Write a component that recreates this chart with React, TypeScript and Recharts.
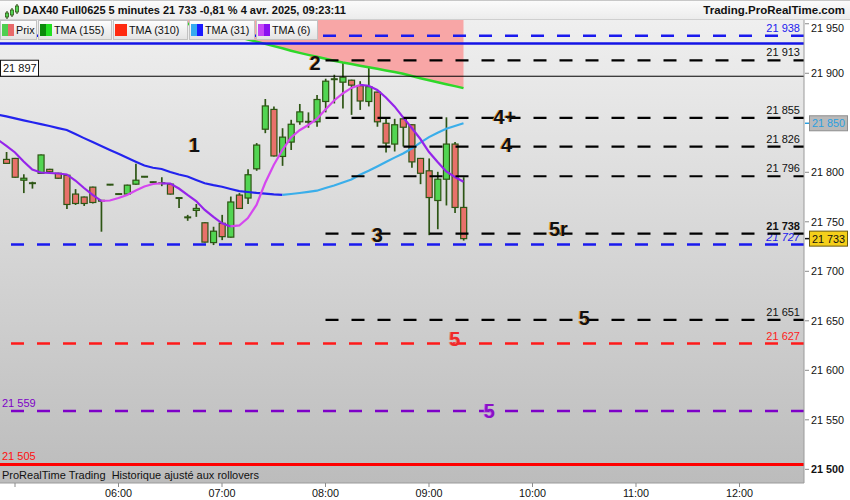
import React from "react";
import {
  ComposedChart,
  Bar,
  Line,
  Area,
  XAxis,
  YAxis,
  CartesianGrid,
  ReferenceLine,
  ReferenceDot,
} from "recharts";

// ---------- data ----------
const times = [
  "04:55", "05:00", "05:05", "05:10", "05:15", "05:20", "05:25", "05:30", "05:35", "05:40",
  "05:45", "05:50", "05:55", "06:00", "06:05", "06:10", "06:15", "06:20", "06:25", "06:30",
  "06:35", "06:40", "06:45", "06:50", "06:55", "07:00", "07:05", "07:10", "07:15", "07:20",
  "07:25", "07:30", "07:35", "07:40", "07:45", "07:50", "07:55", "08:00", "08:05", "08:10",
  "08:15", "08:20", "08:25", "08:30", "08:35", "08:40", "08:45", "08:50", "08:55", "09:00",
  "09:05", "09:10", "09:15", "09:20",
];
const open = [
  21813, 21814, 21792, 21789, 21799, 21803, 21799, 21797, 21778, 21775,
  21785, 21771.5, 21787.5, 21778, 21778, 21788, 21795.5, 21790, 21789, 21788,
  21774, 21754.5, 21761.5, 21749, 21729, 21748.5, 21734.5, 21777, 21774, 21803.5,
  21843.5, 21863.5, 21816, 21830.5, 21851, 21851, 21851, 21871.5, 21894, 21891,
  21893, 21887.5, 21871.5, 21881, 21849.5, 21828.5, 21854, 21848, 21814, 21801.5,
  21771.5, 21793, 21828.5, 21764.5,
];
const high = [
  21820.5, 21814.5, 21798, 21790.5, 21818, 21803.5, 21799.5, 21797.5, 21783, 21775.5,
  21785.5, 21772, 21788, 21778.5, 21787.5, 21808.5, 21796, 21790.5, 21795, 21789,
  21774.5, 21757, 21768, 21749.5, 21745, 21757, 21775.5, 21779, 21803, 21829.5,
  21874, 21866.5, 21844.5, 21853, 21869, 21860.5, 21878, 21894.5, 21898.5, 21911.5,
  21893.5, 21892, 21906.5, 21881.5, 21854, 21854, 21856, 21848.5, 21814.5, 21814,
  21800.5, 21855.5, 21830.5, 21795,
];
const low = [
  21808.5, 21794.5, 21779, 21783.5, 21798.5, 21800, 21793.5, 21763, 21767, 21766,
  21768.5, 21740, 21787, 21777.5, 21777.5, 21787.5, 21795, 21789.5, 21786, 21777.5,
  21764, 21751, 21755, 21729, 21726.5, 21731.5, 21734, 21763, 21768, 21801.5,
  21839.5, 21816, 21806.5, 21822.5, 21848, 21845, 21846, 21860.5, 21869.5, 21864.5,
  21858, 21863, 21866.5, 21846, 21820, 21821, 21826, 21804.5, 21788, 21736.5,
  21742.5, 21766.5, 21759, 21731,
];
const close = [
  21809, 21795, 21794, 21789, 21817.5, 21800.5, 21794, 21767.5, 21768.5, 21768.5,
  21769.5, 21771, 21787.5, 21778, 21787, 21792, 21795.5, 21790, 21789, 21778,
  21774, 21754.5, 21763.5, 21729.5, 21740.5, 21735, 21770, 21763.5, 21797.5, 21827.5,
  21867, 21816.5, 21835.5, 21848.5, 21861, 21851, 21873.5, 21892, 21894, 21896,
  21888, 21872, 21886.5, 21851, 21829.5, 21848, 21845.5, 21810.5, 21799, 21774.5,
  21793, 21828.5, 21764.5, 21733,
];
const tma155Start = "06:35";
const tma155 = [
  21952.3, 21950, 21947.8, 21945.6, 21943.2, 21941, 21938.8, 21936.5, 21934.1, 21931.9,
  21929.7, 21927.4, 21925.2, 21922.8, 21920.6, 21918.6, 21916.7, 21914.6, 21912.7, 21910.9,
  21909.3, 21907.7, 21906.1, 21904.5, 21902.9, 21901.3, 21899.5, 21897.2, 21895, 21892.9,
  21890.9, 21888.9, 21887, 21885,
];
// moving-average values: the first entry is the 04:50 bar just off the left edge
const maTimes = ["04:50", ...times];
const tma31 = [
  21858.3,
  21856.5, 21854.4, 21852.5, 21850.5, 21848.6, 21846.7, 21844.6, 21842.7, 21838.6, 21834.5,
  21830.5, 21826.6, 21822.6, 21818.6, 21814.6, 21810.7, 21806.8, 21804.6, 21803.3, 21800.3,
  21797.8, 21795.7, 21792.2, 21788.9, 21787, 21785.4, 21783.1, 21781, 21780.1, 21779.2,
  21778.5, 21777.7, 21777.1, 21778.1, 21779.1, 21780.2, 21781.4, 21784.1, 21786.7, 21789.7,
  21792.7, 21797.5, 21801.5, 21805.9, 21810.4, 21814.8, 21819, 21824, 21830, 21835.5,
  21840, 21843.9, 21846.8, 21849.5,
];
const tma6 = [
  21833,
  21826.6, 21820, 21810.9, 21802.8, 21799.8, 21799.3, 21798.8, 21797.8, 21791.7, 21784.1,
  21777.1, 21771.2, 21771.5, 21774, 21777.1, 21781.6, 21785.7, 21788.2, 21788.9, 21788.7,
  21783.6, 21777.1, 21771, 21762, 21754.9, 21748.5, 21745.3, 21746.3, 21753.8, 21767,
  21789.2, 21807.4, 21822.5, 21835.2, 21842.5, 21847.8, 21853.8, 21863.4, 21872.5, 21879.6,
  21885.2, 21888.2, 21887.4, 21883.1, 21875.6, 21866.5, 21855.4, 21844.7, 21833.6, 21820.5,
  21810.4, 21800.8, 21795.3, 21790.5,
];

const yTicks = [21500, 21550, 21600, 21650, 21700, 21750, 21800, 21850, 21900, 21950];
const xTickLabels = ["05:00", "06:00", "07:00", "08:00", "09:00", "10:00", "11:00", "12:00"];

const targetLevels = [21913, 21855, 21826, 21796, 21738, 21651];
const targetsFrom = "08:00";
const blueDashedLevels = [21938, 21727];
const blueSolidLevel = 21930;
const thinBlackLevel = 21897;
const redDashedLevel = 21627;
const purpleDashedLevel = 21559;
const redSolidLevel = 21505;
const lastPrice = 21733;

const annotations = [
  { text: "1", time: "06:44", price: 21828, color: "#111111", halo: "#e8a040" },
  { text: "2", time: "07:54", price: 21911, color: "#111111", halo: "#e8a040" },
  { text: "3", time: "08:30", price: 21737, color: "#111111", halo: "#e8a040" },
  { text: "4+", time: "09:44", price: 21856, color: "#111111", halo: "#e8a040" },
  { text: "4", time: "09:45", price: 21828, color: "#111111", halo: "#e8a040" },
  { text: "5r", time: "10:15", price: 21743, color: "#111111", halo: "#e8a040" },
  { text: "5", time: "10:30", price: 21653, color: "#111111", halo: "#e8a040" },
  { text: "5", time: "09:15", price: 21632, color: "#ee2a2a", halo: "#f08080" },
  { text: "5", time: "09:35", price: 21559, color: "#8a10c8", halo: "#c070f0" },
];

// ---------- helpers ----------
const FONT = "'Liberation Sans', Arial, sans-serif";
const toMin = (s: string) => parseInt(s.slice(0, 2), 10) * 60 + parseInt(s.slice(3), 10);
const fmt = (v: number) =>
  String(Math.round(v)).replace(/\B(?=(\d{3})+(?!\d))/g, " ");

const X_MIN = 291.3;
const X_MAX = 757.4;
const Y_MIN = 21486.2;
const Y_MAX = 21953.8;
const PLOT_R = 804;

const split = (arr: number[]) => {
  const up: (number | null)[] = arr.map(() => null);
  const down: (number | null)[] = arr.map(() => null);
  for (let i = 0; i < arr.length - 1; i++) {
    const tgt = arr[i + 1] >= arr[i] ? up : down;
    tgt[i] = arr[i];
    tgt[i + 1] = arr[i + 1];
  }
  return { up, down };
};
const s31 = split(tma31);
const s6 = split(tma6);

const data = maTimes.map((s, j) => {
  const i = times.indexOf(s);
  const k = i >= 0 ? i - times.indexOf(tma155Start) : -1;
  return {
    t: toMin(s),
    open: i >= 0 ? open[i] : null,
    high: i >= 0 ? high[i] : null,
    low: i >= 0 ? low[i] : null,
    close: i >= 0 ? close[i] : null,
    range: i >= 0 ? [low[i], high[i]] : null,
    tma155: k >= 0 ? tma155[k] : null,
    tma31Up: s31.up[j],
    tma31Down: s31.down[j],
    tma6Up: s6.up[j],
    tma6Down: s6.down[j],
  };
});

const lastTma31 = tma31[tma31.length - 1];
const lastTime = toMin(times[times.length - 1]);

// ---------- shapes ----------
const WICK = "#2d5514";
const UP = "#52d552";
const DOWN = "#e8716a";

const Candle = (props: any) => {
  const { x, y, width, height, payload } = props;
  if (!payload || payload.high == null) return null;
  const { open: o, close: c, high: h, low: l } = payload;
  const top = Math.min(y, y + height);
  const hh = Math.abs(height);
  const k = h - l > 0 ? hh / (h - l) : 0;
  const cx = x + width / 2;
  const yO = top + (h - o) * k;
  const yC = top + (h - c) * k;
  const bt = Math.min(yO, yC);
  const bb = Math.max(yO, yC);
  const bw = 6;
  return (
    <g>
      <line x1={cx} x2={cx} y1={top} y2={top + hh} stroke={WICK} strokeWidth={1.7} />
      {bb - bt < 1.6 ? (
        <rect x={cx - bw / 2 - 0.5} y={(bt + bb) / 2 - 1} width={bw + 1} height={2} fill={WICK} />
      ) : (
        <rect
          x={cx - bw / 2}
          y={bt}
          width={bw}
          height={bb - bt}
          fill={c >= o ? UP : DOWN}
          stroke={WICK}
          strokeWidth={1.2}
        />
      )}
    </g>
  );
};

const hideTick = (v: number) => Math.abs(v - lastTma31) < 8 || Math.abs(v - lastPrice) < 8;

const YTick = (props: any) => {
  const { y, payload } = props;
  const v = payload.value;
  if (hideTick(v)) return null;
  const ty = Math.max(y, 28);
  return (
    <g>
      <line x1={PLOT_R + 1} x2={PLOT_R + 5} y1={y} y2={y} stroke="#8a8a8a" />
      <text
        x={PLOT_R + 7}
        y={ty}
        dy="0.36em"
        fontSize={10.8}
        fontFamily={FONT}
        fontWeight={v === 21500 ? "bold" : "normal"}
        fill="#111"
      >
        {fmt(v)}
      </text>
    </g>
  );
};

const XTick = (props: any) => {
  const { x, y, payload } = props;
  const label = xTickLabels.find((s) => toMin(s) === payload.value) || "";
  return (
    <g>
      <line x1={x} x2={x} y1={y - 8} y2={y - 4} stroke="#8a8a8a" />
      {x > 30 ? (
        <text x={x} y={y + 6} textAnchor="middle" fontSize={10.8} fontFamily={FONT} fill="#111">
          {label}
        </text>
      ) : null}
    </g>
  );
};

const RightLabel = (props: any) => {
  const { viewBox, text, color, italic, bold } = props;
  if (!viewBox) return null;
  return (
    <text
      x={viewBox.x + viewBox.width - 4}
      y={viewBox.y - 4}
      textAnchor="end"
      fontSize={11}
      fontFamily={FONT}
      fontStyle={italic ? "italic" : "normal"}
      fontWeight={bold ? "bold" : "normal"}
      fill={color}
    >
      {text}
    </text>
  );
};

const LeftLabel = (props: any) => {
  const { viewBox, text, color } = props;
  if (!viewBox) return null;
  return (
    <text x={viewBox.x + 2} y={viewBox.y - 4} fontSize={11} fontFamily={FONT} fill={color}>
      {text}
    </text>
  );
};

const BoxLabel = (props: any) => {
  const { viewBox, text } = props;
  if (!viewBox) return null;
  return (
    <g>
      <rect x={viewBox.x + 0.5} y={viewBox.y - 16} width={38} height={16} fill="#ffffff" stroke="#111" />
      <text x={viewBox.x + 3} y={viewBox.y - 4} fontSize={11} fontFamily={FONT} fill="#111">
        {text}
      </text>
    </g>
  );
};

const AxisBox = (props: any) => {
  const { cy, text, bg, fg, border, tick } = props;
  if (cy == null) return null;
  return (
    <g>
      <line x1={PLOT_R + 1} x2={PLOT_R + 5} y1={cy} y2={cy} stroke={tick} strokeWidth={1.5} />
      <rect x={PLOT_R + 5.5} y={cy - 7.5} width={38} height={15} fill={bg} stroke={border} />
      <text
        x={PLOT_R + 24.5}
        y={cy}
        dy="0.36em"
        textAnchor="middle"
        fontSize={10.8}
        fontFamily={FONT}
        fill={fg}
      >
        {text}
      </text>
    </g>
  );
};

const Annotation = (props: any) => {
  const { cx, cy, text, color, halo } = props;
  if (cx == null) return null;
  const common = {
    y: cy,
    dy: "0.36em",
    textAnchor: "middle" as const,
    fontSize: 20,
    fontWeight: "bold" as const,
    fontFamily: FONT,
  };
  return (
    <g>
      <text x={cx - 1} {...common} fill={halo}>
        {text}
      </text>
      <text x={cx} {...common} fill={color}>
        {text}
      </text>
    </g>
  );
};

// ---------- overlays ----------
const legendItems = [
  { label: "Prix", left: 0, width: 37, colors: ["#4fcf4f", "#e86a6a"] },
  { label: "TMA (155)", left: 38, width: 74, colors: ["#0b8a0b", "#22e022"] },
  { label: "TMA (310)", left: 113, width: 75, colors: ["#ff2a10", "#ff2a10"] },
  { label: "TMA (31)", left: 189, width: 66, colors: ["#35aaf0", "#1a1aff"] },
  { label: "TMA (6)", left: 256, width: 62, colors: ["#c548f5", "#8a12f0"] },
];

export default function App() {
  const x08 = toMin(targetsFrom);
  return (
    <div style={{ position: "relative", width: 850, height: 500, overflow: "hidden", background: "#fff" }}>
      <style>{"body{margin:0}"}</style>
      <ComposedChart
        width={850}
        height={500}
        data={data}
        margin={{ top: 20, right: 0, bottom: 0, left: 0 }}
        style={{ position: "absolute", left: 0, top: 0 }}
      >
        <defs>
          <linearGradient id="plotBg" x1="0" y1="0" x2="0" y2="1">
            <stop offset="0" stopColor="#efefef" />
            <stop offset="1" stopColor="#bcbcbc" />
          </linearGradient>
        </defs>
        <CartesianGrid horizontal={false} vertical={false} fill="url(#plotBg)" />
        <XAxis
          dataKey="t"
          type="number"
          domain={[X_MIN, X_MAX]}
          allowDataOverflow
          ticks={xTickLabels.map(toMin)}
          interval={0}
          height={17}
          axisLine={{ stroke: "#9a9a9a" }}
          tickLine={false}
          tick={<XTick />}
        />
        <YAxis
          type="number"
          orientation="right"
          domain={[Y_MIN, Y_MAX]}
          allowDataOverflow
          ticks={yTicks}
          interval={0}
          width={46}
          axisLine={{ stroke: "#9a9a9a" }}
          tickLine={false}
          tick={<YTick />}
        />
        <Area
          dataKey="tma155"
          baseValue={Y_MAX}
          stroke="none"
          fill="#f8a6a6"
          fillOpacity={1}
          isAnimationActive={false}
          connectNulls={false}
        />
        <Bar dataKey="range" barSize={7} isAnimationActive={false} shape={(p: any) => <Candle {...p} />} />
        <Line dataKey="tma155" stroke="#2fd82a" strokeWidth={2.5} dot={false} activeDot={false} isAnimationActive={false} />
        <Line dataKey="tma31Down" stroke="#2323ee" strokeWidth={2.2} dot={false} activeDot={false} isAnimationActive={false} />
        <Line dataKey="tma31Up" stroke="#3aaeea" strokeWidth={2.2} dot={false} activeDot={false} isAnimationActive={false} />
        <Line dataKey="tma6Down" stroke="#9524ea" strokeWidth={2.2} dot={false} activeDot={false} isAnimationActive={false} />
        <Line dataKey="tma6Up" stroke="#d547ef" strokeWidth={2.2} dot={false} activeDot={false} isAnimationActive={false} />

        <ReferenceLine y={blueSolidLevel} stroke="#1414e6" strokeWidth={2.5} />
        <ReferenceLine
          y={thinBlackLevel}
          stroke="#000"
          strokeWidth={1}
          label={<BoxLabel text={fmt(thinBlackLevel)} />}
        />
        {blueDashedLevels.map((v, i) => (
          <ReferenceLine
            key={"bd" + v}
            y={v}
            stroke="#1a1aee"
            strokeWidth={2.5}
            strokeDasharray="13 13"
            label={<RightLabel text={fmt(v)} color="#2020ee" italic={i === 1} />}
          />
        ))}
        {targetLevels.map((v) => (
          <ReferenceLine
            key={"t" + v}
            segment={[
              { x: x08, y: v },
              { x: X_MAX, y: v },
            ]}
            stroke="#000"
            strokeWidth={2.2}
            strokeDasharray="13 13"
            label={<RightLabel text={fmt(v)} color="#111" bold={v === 21738} />}
          />
        ))}
        <ReferenceLine
          y={redDashedLevel}
          stroke="#ff1a1a"
          strokeWidth={2.5}
          strokeDasharray="13 13"
          label={<RightLabel text={fmt(redDashedLevel)} color="#ff2020" />}
        />
        <ReferenceLine
          y={purpleDashedLevel}
          stroke="#7e00c8"
          strokeWidth={2.5}
          strokeDasharray="13 13"
          label={<LeftLabel text={fmt(purpleDashedLevel)} color="#7e00c8" />}
        />
        <ReferenceLine
          y={redSolidLevel}
          stroke="#ff0000"
          strokeWidth={3}
          label={<LeftLabel text={fmt(redSolidLevel)} color="#ff1010" />}
        />

        {annotations.map((a, i) => (
          <ReferenceDot
            key={"a" + i}
            x={toMin(a.time)}
            y={a.price}
            r={0}
            shape={(p: any) => <Annotation {...p} text={a.text} color={a.color} halo={a.halo} />}
          />
        ))}
        <ReferenceDot
          x={lastTime}
          y={lastTma31}
          r={0}
          shape={(p: any) => (
            <AxisBox {...p} text={fmt(lastTma31)} bg="#b9b9b9" fg="#2a9fe0" border="#8f8f8f" tick="#2a9fe0" />
          )}
        />
        <ReferenceDot
          x={lastTime}
          y={lastPrice}
          r={0}
          shape={(p: any) => (
            <AxisBox {...p} text={fmt(lastPrice)} bg="#f5cf1a" fg="#111" border="#6a5a10" tick="#111" />
          )}
        />
      </ComposedChart>

      {/* header */}
      <div
        style={{
          position: "absolute",
          left: 0,
          top: 0,
          width: 850,
          height: 20,
          background: "linear-gradient(#fbfbfb, #ececec)",
          borderTop: "1px solid #c8c8c8",
          borderBottom: "1px solid #cfcfcf",
          boxSizing: "border-box",
          fontFamily: FONT,
        }}
      >
        <svg width={18} height={18} style={{ position: "absolute", left: 3, top: 1 }}>
          <line x1={4} x2={4} y1={9} y2={17} stroke="#2d5514" strokeWidth={1.2} />
          <rect x={2.5} y={11} width={3} height={4} fill="#52d552" stroke="#2d5514" strokeWidth={0.8} />
          <line x1={9} x2={9} y1={6} y2={15} stroke="#2d5514" strokeWidth={1.2} />
          <rect x={7.5} y={8} width={3} height={5} fill="#52d552" stroke="#2d5514" strokeWidth={0.8} />
          <line x1={14} x2={14} y1={2} y2={12} stroke="#2d5514" strokeWidth={1.2} />
          <rect x={12.5} y={4} width={3} height={6} fill="#52d552" stroke="#2d5514" strokeWidth={0.8} />
        </svg>
        <div style={{ position: "absolute", left: 23, top: 3, fontSize: 11, fontWeight: "bold", color: "#111", whiteSpace: "nowrap" }}>
          DAX40 Full0625 5 minutes 21 733 -0,81 % 4 avr. 2025, 09:23:11
        </div>
        <div style={{ position: "absolute", right: 5, top: 3, fontSize: 11.5, fontWeight: "bold", color: "#111", whiteSpace: "nowrap" }}>
          Trading.ProRealTime.com
        </div>
      </div>

      {/* legend */}
      {legendItems.map((it) => (
        <div
          key={it.label}
          style={{
            position: "absolute",
            left: it.left,
            top: 20,
            width: it.width,
            height: 20,
            boxSizing: "border-box",
            border: "1px solid #c2c2c2",
            background: "linear-gradient(#fdfdfd, #e4e4e4)",
            fontFamily: FONT,
            fontSize: 10.8,
            color: "#111",
            overflow: "hidden",
          }}
        >
          <span style={{ position: "absolute", left: 1, top: 3, width: 6, height: 12, background: it.colors[0] }} />
          <span style={{ position: "absolute", left: 7, top: 3, width: 6, height: 12, background: it.colors[1] }} />
          <span style={{ position: "absolute", left: 15, top: 3, whiteSpace: "nowrap" }}>{it.label}</span>
        </div>
      ))}

      {/* footer inside plot */}
      <div
        style={{
          position: "absolute",
          left: 2,
          top: 469,
          fontFamily: FONT,
          fontSize: 11,
          color: "#111",
          whiteSpace: "nowrap",
        }}
      >
        ProRealTime Trading&nbsp; Historique ajusté aux rollovers
      </div>
    </div>
  );
}
